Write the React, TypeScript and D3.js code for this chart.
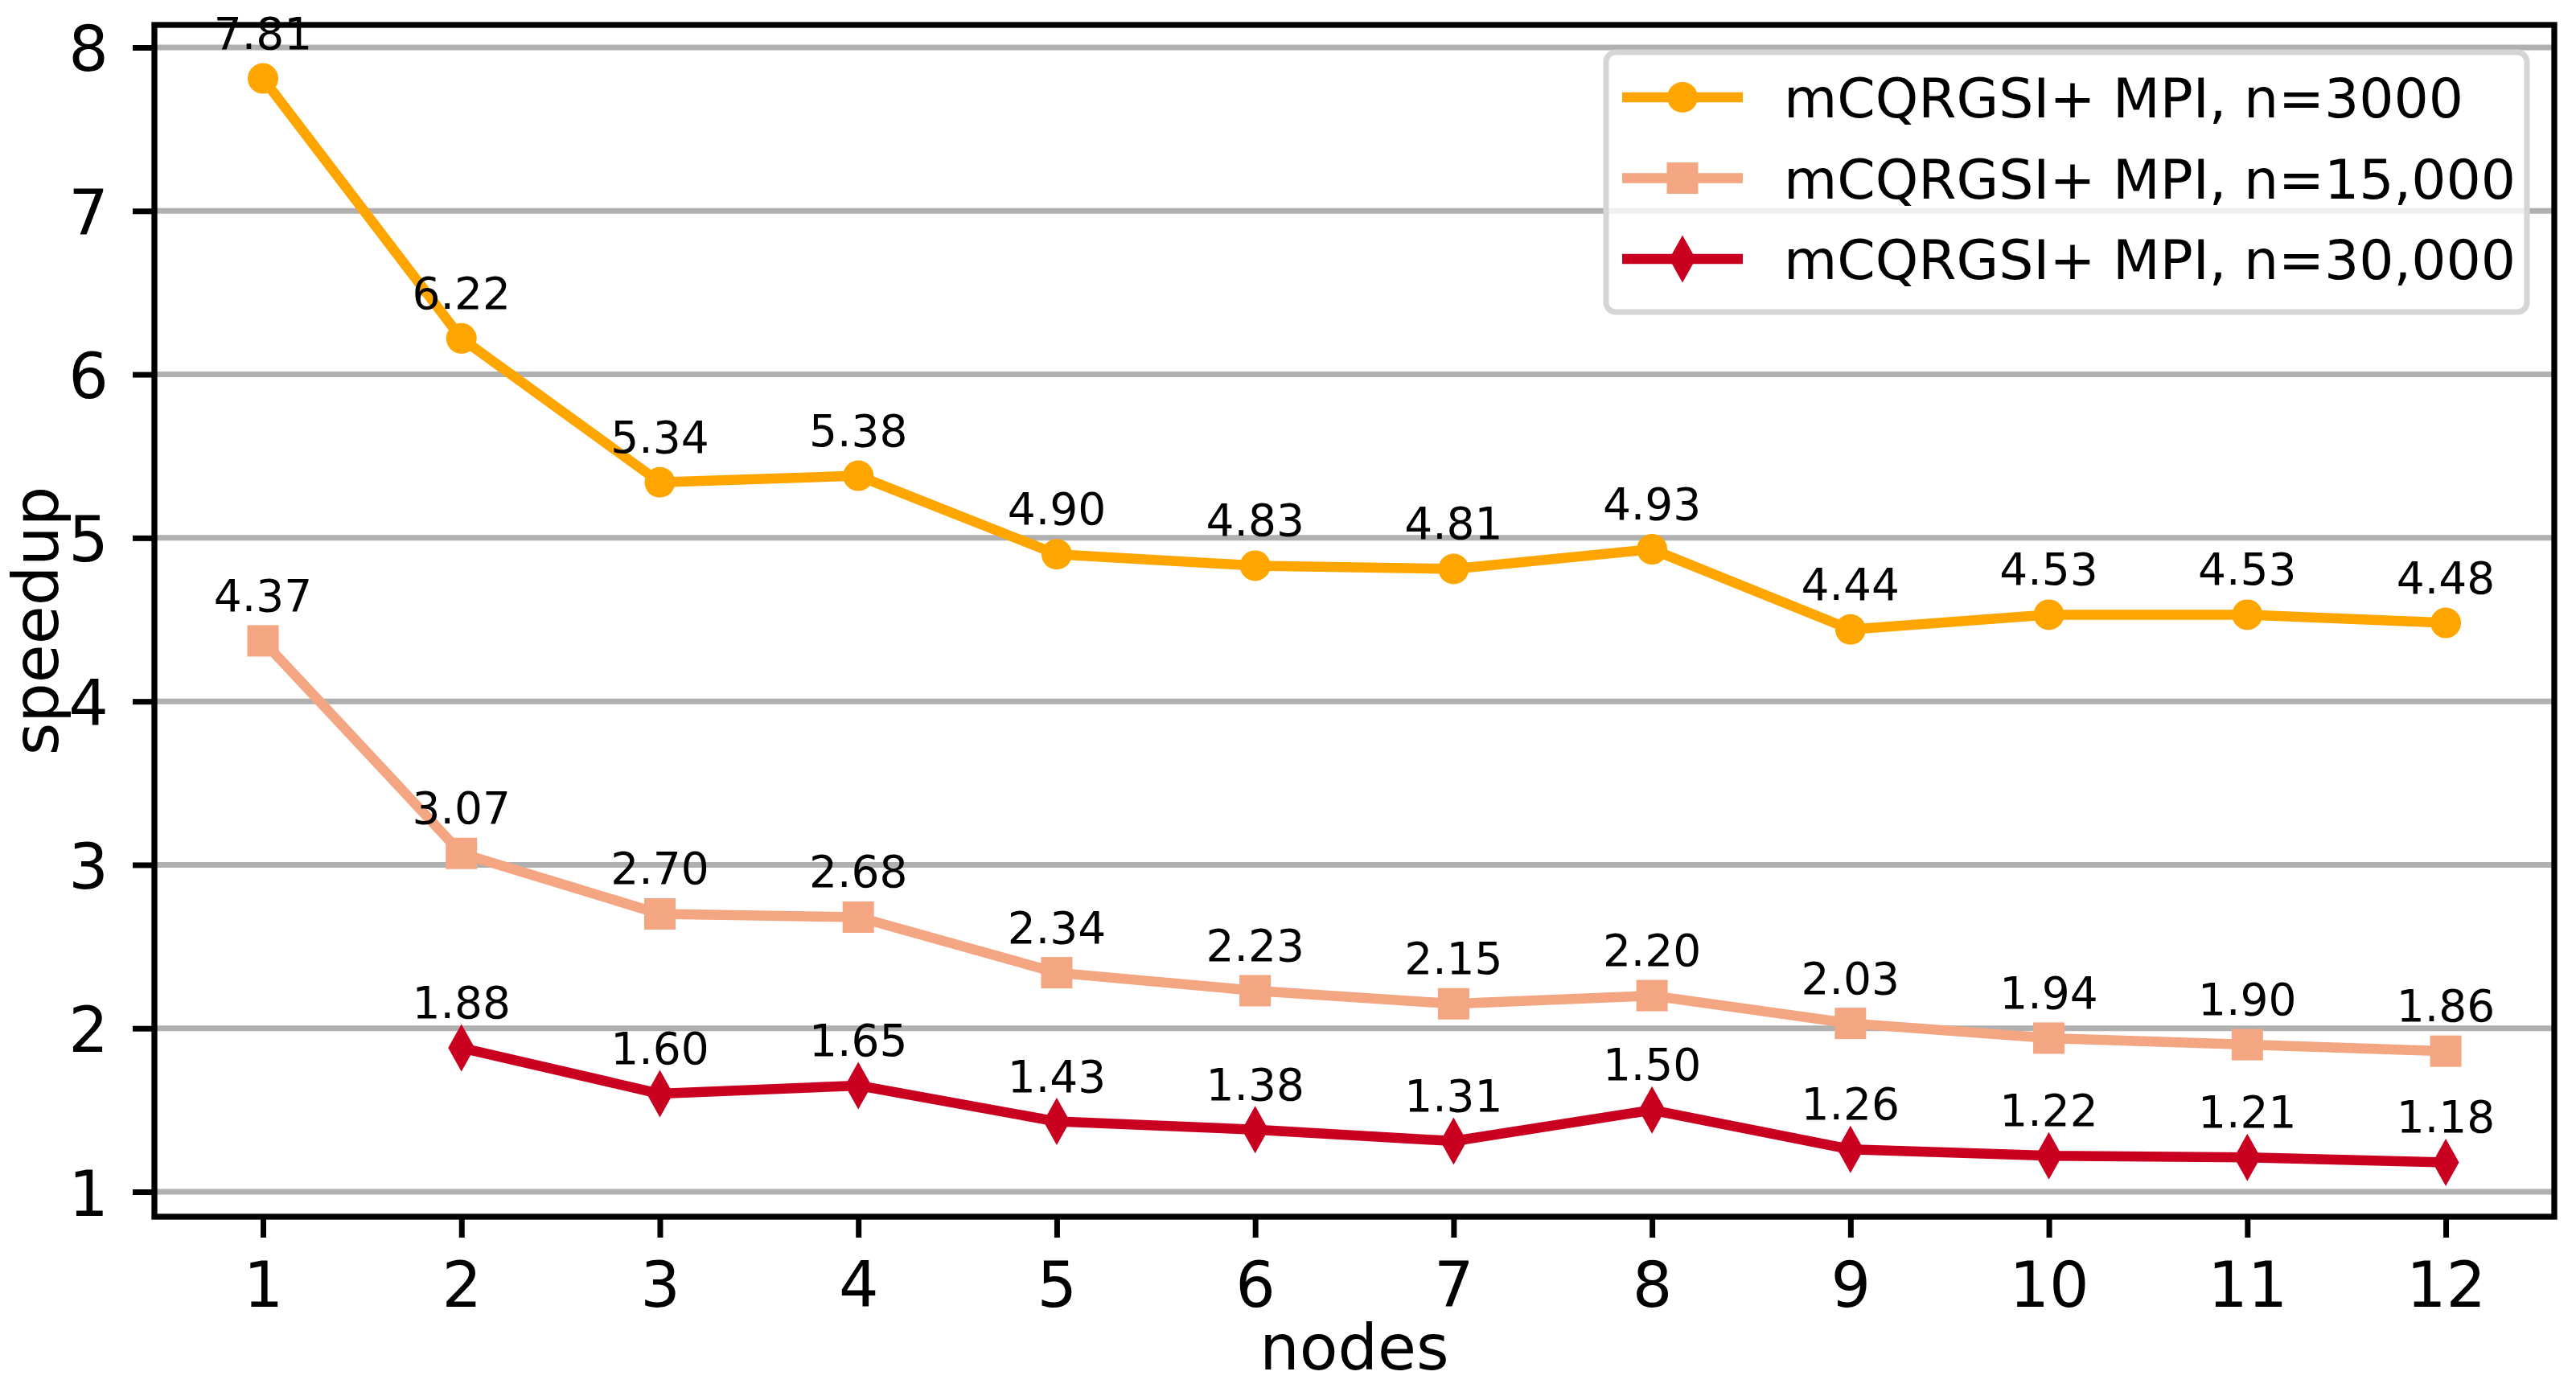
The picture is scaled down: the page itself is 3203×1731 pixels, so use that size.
import React, { useEffect, useRef } from 'react';
import * as d3 from 'd3';

const nodes = [1, 2, 3, 4, 5, 6, 7, 8, 9, 10, 11, 12];
const speedup3000 = [7.81, 6.22, 5.34, 5.38, 4.9, 4.83, 4.81, 4.93, 4.44, 4.53, 4.53, 4.48];
const speedup15000 = [4.37, 3.07, 2.7, 2.68, 2.34, 2.23, 2.15, 2.2, 2.03, 1.94, 1.9, 1.86];
const nodes30000 = [2, 3, 4, 5, 6, 7, 8, 9, 10, 11, 12];
const speedup30000 = [1.88, 1.6, 1.65, 1.43, 1.38, 1.31, 1.5, 1.26, 1.22, 1.21, 1.18];
const yTicks = [1, 2, 3, 4, 5, 6, 7, 8];
const seriesLabels = ['mCQRGSI+ MPI, n=3000', 'mCQRGSI+ MPI, n=15,000', 'mCQRGSI+ MPI, n=30,000'];
const seriesColors = ['#ffa500', '#f4a582', '#ca0020'];

type Pt = { x: number; y: number };
type Series = { label: string; color: string; marker: string; pts: Pt[] };

const W = 3203;
const H = 1731;
const FONT = 'DejaVu Sans, sans-serif';
const LW = 12.5;

function drawMarker(g: any, kind: string, cx: number, cy: number, color: string) {
	if (kind === 'circle') {
		g.append('circle').attr('cx', cx).attr('cy', cy).attr('r', 19).attr('fill', color);
	} else if (kind === 'square') {
		g.append('rect').attr('x', cx - 19.5).attr('y', cy - 19.5).attr('width', 39).attr('height', 39).attr('fill', color);
	} else {
		// thin diamond
		const hh = 29.5;
		const hw = 16.5;
		g.append('path')
			.attr('d', `M${cx},${cy - hh}L${cx + hw},${cy}L${cx},${cy + hh}L${cx - hw},${cy}Z`)
			.attr('fill', color);
	}
}

function SpeedupChart(): JSX.Element {
	const ref = useRef<SVGSVGElement | null>(null);
	useEffect(() => {
		document.body.style.margin = '0';
		if (!ref.current) return;
		const svg = d3.select(ref.current);
		svg.selectAll('*').remove();

		const left = 192, right = 3176, top = 31, bottom = 1513;
		const x = d3.scaleLinear().domain([0.4528, 12.547]).range([left, right]);
		const y = d3.scaleLinear().domain([0.8476, 8.1377]).range([bottom, top]);

		const series: Series[] = [
			{ label: seriesLabels[0], color: seriesColors[0], marker: 'circle', pts: nodes.map((n, i) => ({ x: n, y: speedup3000[i] })) },
			{ label: seriesLabels[1], color: seriesColors[1], marker: 'square', pts: nodes.map((n, i) => ({ x: n, y: speedup15000[i] })) },
			{ label: seriesLabels[2], color: seriesColors[2], marker: 'diamond', pts: nodes30000.map((n, i) => ({ x: n, y: speedup30000[i] })) },
		];

		// horizontal grid
		svg.append('g')
			.selectAll('line')
			.data(yTicks)
			.join('line')
			.attr('x1', left).attr('x2', right)
			.attr('y1', (d) => y(d)).attr('y2', (d) => y(d))
			.attr('stroke', '#b0b0b0').attr('stroke-width', 7);

		// lines + markers
		const line = d3.line<Pt>().x((d) => x(d.x)).y((d) => y(d.y));
		series.forEach((s) => {
			svg.append('path').attr('d', line(s.pts) as string).attr('fill', 'none')
				.attr('stroke', s.color).attr('stroke-width', LW).attr('stroke-linejoin', 'round');
			const mg = svg.append('g');
			s.pts.forEach((p) => drawMarker(mg, s.marker, x(p.x), y(p.y), s.color));
		});

		// value annotations
		series.forEach((s) => {
			svg.append('g')
				.selectAll('text')
				.data(s.pts)
				.join('text')
				.attr('x', (d) => x(d.x))
				.attr('y', (d) => y(d.y) - 37)
				.attr('text-anchor', 'middle')
				.style('font-family', FONT).style('font-size', '55px')
				.text((d) => d.y.toFixed(2));
		});

		// axes
		const xAxis = d3.axisBottom(x).tickValues(nodes).tickFormat(d3.format('d')).tickSize(26);
		const gx = svg.append('g').attr('transform', `translate(0,${bottom})`).call(xAxis);
		gx.selectAll('.tick text').attr('y', 112).attr('dy', null);
		const yAxis = d3.axisLeft(y).tickValues(yTicks).tickFormat(d3.format('d')).tickSize(27);
		const gy = svg.append('g').attr('transform', `translate(${left},0)`).call(yAxis);
		gy.selectAll('.tick text').attr('x', -57).attr('dy', 29);
		[gx, gy].forEach((g) => {
			g.select('.domain').remove();
			g.selectAll('.tick line').attr('stroke', '#000').attr('stroke-width', 7);
			g.selectAll('.tick text').attr('fill', '#000').style('font-family', FONT).style('font-size', '78px');
		});
		svg.append('rect').attr('x', left).attr('y', top).attr('width', right - left).attr('height', bottom - top)
			.attr('fill', 'none').attr('stroke', '#000').attr('stroke-width', 7.3);

		// axis titles
		svg.append('text').attr('x', (left + right) / 2).attr('y', 1703).attr('text-anchor', 'middle')
			.style('font-family', FONT).style('font-size', '78px').text('nodes');
		svg.append('text').attr('transform', `translate(72,${(top + bottom) / 2}) rotate(-90)`).attr('text-anchor', 'middle')
			.style('font-family', FONT).style('font-size', '78px').text('speedup');

		// legend
		const lg = svg.append('g');
		lg.append('rect').attr('x', 1997).attr('y', 65).attr('width', 3142 - 1997).attr('height', 388 - 65).attr('rx', 12)
			.attr('fill', 'rgba(255,255,255,0.8)').attr('stroke', '#d5d5d5').attr('stroke-width', 7);
		series.forEach((s, i) => {
			const cy = 121 + i * 100.5;
			lg.append('line').attr('x1', 2017).attr('x2', 2167).attr('y1', cy).attr('y2', cy)
				.attr('stroke', s.color).attr('stroke-width', LW);
			drawMarker(lg, s.marker, 2092, cy, s.color);
			lg.append('text').attr('x', 2218).attr('y', cy + 25)
				.style('font-family', FONT).style('font-size', '68px').text(s.label);
		});
	}, []);
	return <svg ref={ref} width={W} height={H} style={{ display: 'block', background: '#fff' }} />;
}

export default function App(): JSX.Element {
	return <SpeedupChart />;
}
